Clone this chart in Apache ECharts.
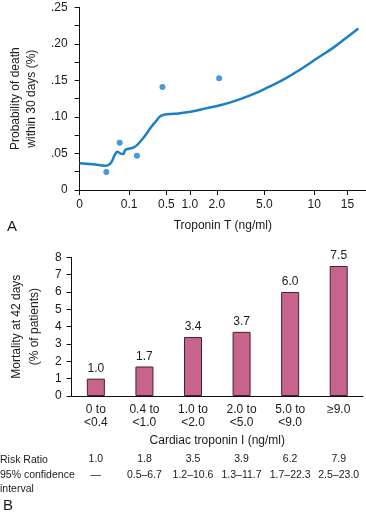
<!DOCTYPE html>
<html><head><meta charset="utf-8">
<script src="https://cdn.jsdelivr.net/npm/echarts@6/dist/echarts.min.js"></script>
<style>html,body{margin:0;padding:0;background:#fff}#c{width:366px;height:516px}</style>
</head><body><div id="c"></div>
<script>
// ---- Panel A data ----
const curveT = [0, 0.026, 0.053, 0.0625, 0.071, 0.076, 0.082, 0.088, 0.092, 0.099, 0.145, 0.234, 0.339, 0.392, 0.426, 0.461, 0.52, 0.667, 1.03, 1.63, 2.20, 3.02, 4.26, 5.46, 7.09, 8.73, 10.5, 12.99, 15.44, 16.66];
const curveP = [0.0365, 0.0352, 0.0333, 0.0365, 0.0479, 0.0524, 0.0502, 0.0493, 0.0547, 0.0565, 0.0579, 0.0684, 0.0866, 0.0948, 0.1000, 0.1025, 0.1038, 0.1042, 0.107, 0.112, 0.116, 0.121, 0.1308, 0.1411, 0.1524, 0.166, 0.1806, 0.1955, 0.2125, 0.221];
const pointT = [0.054, 0.081, 0.184, 0.458, 2.15];
const pointP = [0.0246, 0.0647, 0.0469, 0.141, 0.153];
const xTickVals = [0, 0.1, 0.5, 1, 2, 5, 10, 15];
const xTickLabels = ['0', '0.1', '0.5', '1.0', '2.0', '5.0', '10', '15'];

// ---- Panel B data ----
const categories = ['0 to\n<0.4', '0.4 to\n<1.0', '1.0 to\n<2.0', '2.0 to\n<5.0', '5.0 to\n<9.0', '\u22659.0'];
const mortality = [1.0, 1.7, 3.4, 3.7, 6.0, 7.5];
const riskRatio = ['1.0', '1.8', '3.5', '3.9', '6.2', '7.9'];
const confInterval = ['\u2014', '0.5\u20136.7', '1.2\u201310.6', '1.3\u201311.7', '1.7\u201322.3', '2.5\u201323.0'];

// Non-linear troponin T axis of panel A: fraction of axis length at each tick value
const scaleKnots = [0, 0.173, 0.303, 0.385, 0.479, 0.645, 0.819, 0.935];
function toAxis(v) {
  const n = xTickVals.length;
  let i = 0;
  while (i < n - 2 && v > xTickVals[i + 1]) i++;
  const t = (v - xTickVals[i]) / (xTickVals[i + 1] - xTickVals[i]);
  return scaleKnots[i] + t * (scaleKnots[i + 1] - scaleKnots[i]);
}
const tickPos = xTickVals.map(toAxis);

const FONT = 'Liberation Sans, Arial, sans-serif';
const TXT = '#1a1a1a';
const BLUE = '#1d7fc4';
const axisLineStyle = { color: '#111', width: 1 };

const chart = echarts.init(document.getElementById('c'), null, { renderer: 'canvas' });
chart.setOption({
  animation: false,
  backgroundColor: '#fff',
  textStyle: { fontFamily: FONT, color: TXT },
  grid: [
    { left: 73.3, top: 7.3, right: 0, bottom: 326 },
    { left: 63.3, top: 257.3, right: 3, bottom: 120 }
  ],
  xAxis: [
    {
      gridIndex: 0, type: 'value', min: 0, max: 1,
      name: 'Troponin T (ng/ml)', nameLocation: 'middle', nameGap: 30,
      nameTextStyle: { fontSize: 12, color: TXT, fontFamily: FONT },
      axisLine: { lineStyle: axisLineStyle },
      axisTick: { customValues: tickPos, length: 5, lineStyle: axisLineStyle },
      axisLabel: {
        customValues: tickPos, fontSize: 12, color: TXT, fontFamily: FONT, margin: 9,
        formatter: function (val) {
          for (let i = 0; i < tickPos.length; i++) if (Math.abs(tickPos[i] - val) < 1e-6) return xTickLabels[i];
          return '';
        }
      },
      splitLine: { show: false }
    },
    {
      gridIndex: 1, type: 'category', data: categories,
      name: 'Cardiac troponin I (ng/ml)', nameLocation: 'middle', nameGap: 39,
      nameTextStyle: { fontSize: 12, color: TXT, fontFamily: FONT },
      axisLine: { lineStyle: axisLineStyle },
      axisTick: { length: 6, lineStyle: axisLineStyle },
      axisLabel: { interval: 0, fontSize: 12, lineHeight: 13, color: TXT, fontFamily: FONT, margin: 7 }
    },
    {
      gridIndex: 1, type: 'category', data: riskRatio, position: 'bottom', offset: 58,
      axisLine: { show: false }, axisTick: { show: false },
      axisLabel: { interval: 0, fontSize: 10.5, color: TXT, fontFamily: FONT, margin: 0 }
    },
    {
      gridIndex: 1, type: 'category', data: confInterval, position: 'bottom', offset: 73.5,
      axisLine: { show: false }, axisTick: { show: false },
      axisLabel: { interval: 0, fontSize: 10.5, color: TXT, fontFamily: FONT, margin: 0 }
    }
  ],
  yAxis: [
    {
      gridIndex: 0, type: 'value', min: 0, max: 0.25, interval: 0.05,
      name: 'Probability of death\nwithin 30 days (%)', nameLocation: 'middle', nameGap: 31,
      nameTextStyle: { fontSize: 12, lineHeight: 16, color: TXT, fontFamily: FONT },
      axisLine: { show: true, lineStyle: axisLineStyle },
      axisTick: { show: true, length: 5, lineStyle: axisLineStyle },
      minorTick: { show: true, splitNumber: 2, length: 5, lineStyle: axisLineStyle },
      axisLabel: {
        fontSize: 12, color: TXT, fontFamily: FONT, margin: 12,
        formatter: function (v) {
          if (v === 0) return '0';
          return '.' + String(Math.round(v * 100)).padStart(2, '0');
        }
      },
      splitLine: { show: false }, minorSplitLine: { show: false }
    },
    {
      gridIndex: 1, type: 'value', min: 0, max: 8, interval: 1,
      name: 'Mortality at 42 days\n(% of patients)', nameLocation: 'middle', nameGap: 20,
      nameTextStyle: { fontSize: 12, lineHeight: 18, color: TXT, fontFamily: FONT },
      axisLine: { show: true, lineStyle: axisLineStyle },
      axisTick: { show: true, length: 5, lineStyle: axisLineStyle },
      axisLabel: { fontSize: 12, color: TXT, fontFamily: FONT, margin: 10 },
      splitLine: { show: false }
    }
  ],
  series: [
    {
      type: 'line', xAxisIndex: 0, yAxisIndex: 0,
      data: curveT.map((t, i) => [toAxis(t), curveP[i]]),
      smooth: 0.5, showSymbol: false, symbol: 'none',
      lineStyle: { color: BLUE, width: 2.5 }
    },
    {
      type: 'scatter', xAxisIndex: 0, yAxisIndex: 0,
      data: pointT.map((t, i) => [toAxis(t), pointP[i]]),
      symbol: 'circle', symbolSize: 6,
      itemStyle: { color: BLUE }
    },
    {
      type: 'bar', xAxisIndex: 1, yAxisIndex: 1,
      data: mortality, barWidth: 18,
      itemStyle: { color: '#c7648e', borderColor: '#4a1e30', borderWidth: 1 },
      label: {
        show: true, position: 'top', distance: 4, fontSize: 12, color: TXT, fontFamily: FONT,
        formatter: p => p.value.toFixed(1)
      }
    }
  ],
  graphic: [
    { type: 'text', left: 7, top: 219, style: { text: 'A', fontSize: 15, fill: TXT, fontFamily: FONT } },
    { type: 'text', left: 3, top: 498, style: { text: 'B', fontSize: 15, fill: TXT, fontFamily: FONT } },
    { type: 'text', left: 0, top: 455, style: { text: 'Risk Ratio', fontSize: 10.5, fill: TXT, fontFamily: FONT } },
    { type: 'text', left: 0, top: 470, style: { text: '95% confidence', fontSize: 10.5, fill: TXT, fontFamily: FONT } },
    { type: 'text', left: 0, top: 483.5, style: { text: 'interval', fontSize: 10.5, fill: TXT, fontFamily: FONT } }
  ]
});
</script>
</body></html>
